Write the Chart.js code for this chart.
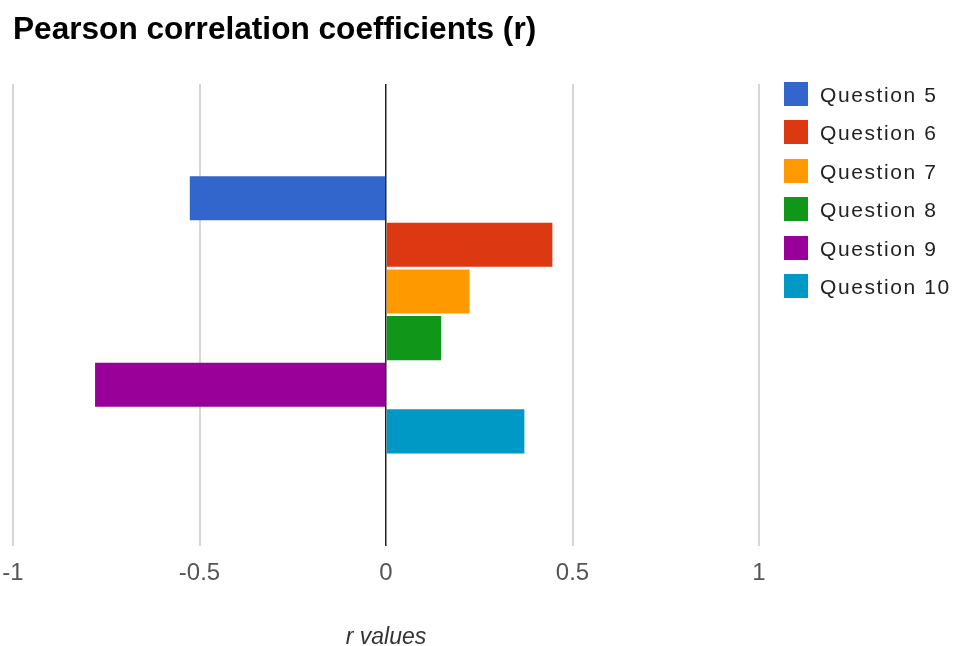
<!DOCTYPE html>
<html>
<head>
<meta charset="utf-8">
<script src="https://cdn.jsdelivr.net/npm/chart.js@4"></script>
<style>
  body { margin: 0; background: #fff; }
  #wrap { position: relative; width: 958px; height: 646px; }
  #grafico { position: absolute; left: 0; top: 0; }
  #legenda { position: absolute; left: 784px; top: 82px; font-family: "Liberation Sans", Arial, sans-serif; }
  .item { display: flex; align-items: center; height: 24px; margin-bottom: 14.4px; }
  .caixa { width: 24px; height: 24px; margin-right: 12px; }
  .texto { font-size: 21px; color: #222; letter-spacing: 1.6px; position: relative; top: 1px; }
</style>
</head>
<body>
<div id="wrap">
  <canvas id="grafico" width="958" height="646"></canvas>
  <div id="legenda"></div>
</div>
<script>
// Dados
const perguntas = ["Question 5", "Question 6", "Question 7", "Question 8", "Question 9", "Question 10"];
const valoresR = [-0.526, 0.446, 0.224, 0.148, -0.780, 0.371];
const cores = ["#3366cc", "#dc3912", "#ff9900", "#109618", "#990099", "#0099c6"];
const ticksX = [-1, -0.5, 0, 0.5, 1];

const fonte = "'Liberation Sans', Arial, sans-serif";

// Um dataset por pergunta, todos na mesma categoria
const datasets = perguntas.map((p, i) => ({
    label: p,
    data: [valoresR[i]],
    backgroundColor: cores[i],
    borderWidth: 0,
    categoryPercentage: 0.606,
    barPercentage: 0.946
}));

const ctx = document.getElementById("grafico").getContext("2d");
const grafico = new Chart(ctx, {
    type: "bar",
    data: { labels: [""], datasets: datasets },
    options: {
        indexAxis: "y",
        responsive: false,
        animation: false,
        layout: { padding: { left: 13, right: 199, top: 0, bottom: -5 } },
        plugins: {
            legend: { display: false },
            tooltip: { enabled: false },
            title: {
                display: true,
                text: "Pearson correlation coefficients (r)",
                align: "start",
                color: "#000",
                font: { family: fonte, size: 31.6, weight: "bold" },
                padding: { top: 11, bottom: 35 }
            }
        },
        scales: {
            x: {
                min: -1,
                max: 1,
                afterBuildTicks: (scale) => { scale.ticks = ticksX.map(v => ({ value: v })); },
                // os rótulos podem passar da área do gráfico, como no original
                afterFit: (scale) => { scale.paddingLeft = 0; scale.paddingRight = 0; },
                grid: {
                    color: (c) => c.tick && c.tick.value === 0 ? "#222" : "#d6d6d6",
                    lineWidth: (c) => c.tick && c.tick.value === 0 ? 1.5 : 2,
                    drawTicks: false
                },
                border: { display: false },
                ticks: {
                    color: "#555",
                    padding: 13,
                    font: { family: fonte, size: 24 },
                    callback: (v) => String(v)
                },
                title: {
                    display: true,
                    text: "r values",
                    color: "#333",
                    padding: { top: 23, bottom: 0 },
                    font: { family: fonte, size: 23, style: "italic" }
                }
            },
            y: {
                display: false
            }
        }
    }
});

// Legenda em HTML montada a partir dos arrays
const legenda = document.getElementById("legenda");
perguntas.forEach((p, i) => {
    const item = document.createElement("div");
    item.className = "item";
    item.innerHTML = `<span class="caixa" style="background:${cores[i]}"></span><span class="texto">${p}</span>`;
    legenda.appendChild(item);
});
</script>
</body>
</html>
